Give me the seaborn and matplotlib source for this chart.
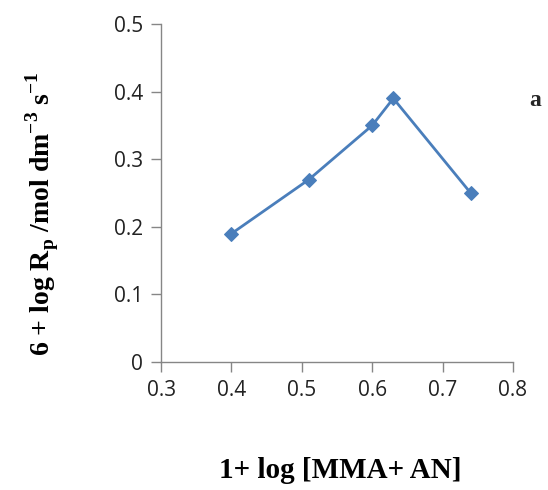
import matplotlib
matplotlib.use("Agg")
import matplotlib.pyplot as plt
import seaborn as sns
import pandas as pd

# data
log_conc = [0.40, 0.51, 0.60, 0.63, 0.74]
log_rp = [0.19, 0.27, 0.35, 0.39, 0.25]
x_ticks = [0.3, 0.4, 0.5, 0.6, 0.7, 0.8]
y_ticks = [0, 0.1, 0.2, 0.3, 0.4, 0.5]
y_tick_labels = ["0", "0.1", "0.2", "0.3", "0.4", "0.5"]


def main():
    sns.set_theme(style="white")
    plt.rcParams['font.family'] = ['Open Sans', 'DejaVu Sans']

    df = pd.DataFrame({'x': log_conc, 'y': log_rp})

    fig = plt.figure(figsize=(5.48, 4.90), dpi=100)
    ax = fig.add_axes([0.294, 0.261, 0.642, 0.690])

    sns.lineplot(data=df, x='x', y='y', ax=ax, color='#4a7ebb', lw=2,
                 marker='D', markersize=7, markeredgecolor='#4a7ebb')

    ax.set_xlim(0.3, 0.8)
    ax.set_ylim(0, 0.5)
    ax.set_xticks(x_ticks)
    ax.set_xticklabels([f"{t:.1f}" for t in x_ticks])
    ax.set_yticks(y_ticks)
    ax.set_yticklabels(y_tick_labels)

    for side in ['top', 'right']:
        ax.spines[side].set_visible(False)
    for side in ['left', 'bottom']:
        ax.spines[side].set_color('#868686')
        ax.spines[side].set_linewidth(1)
    ax.tick_params(axis='both', which='major', direction='out', length=7,
                   width=1, color='#868686', labelsize=15, labelcolor='#222222',
                   bottom=True, left=True, pad=6)

    serif = dict(family='Liberation Serif', weight='bold', color='black')
    ax.set_xlabel('1+ log [MMA+ AN]', size=21, va='center', **serif)
    ax.xaxis.set_label_coords(0.51, -0.32)
    ax.set_ylabel(r'6 + log R$_\mathregular{p}$ /mol dm$^\mathregular{-3}$ s$^\mathregular{-1}$',
                  size=20, va='center', **serif)
    ax.yaxis.set_label_coords(-0.338, 0.44)
    fig.text(0.977, 0.795, 'a', family='Liberation Serif', weight='bold',
             size=17, ha='center', va='center')

    fig.savefig('out.png', dpi=100)
    plt.close(fig)


if __name__ == '__main__':
    main()
